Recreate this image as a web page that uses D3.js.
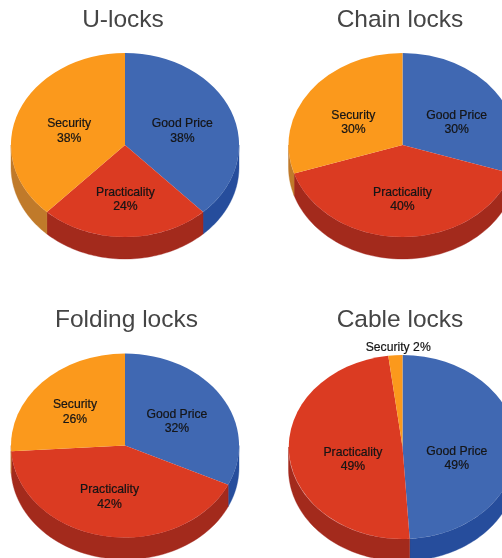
<!DOCTYPE html>
<html><head><meta charset="utf-8">
<script src="https://cdn.jsdelivr.net/npm/d3@7"></script>
<style>html,body{margin:0;padding:0;background:#fff;overflow:hidden}svg{display:block}</style>
</head><body><script>
const titles = ["U-locks","Chain locks","Folding locks","Cable locks"];
const categories = ["Good Price","Practicality","Security"];
const uLocks = [38,24,38];
const chainLocks = [30,40,30];
const foldingLocks = [32,42,26];
const cableLocks = [49,49,2];
const seriesValues = [uLocks,chainLocks,foldingLocks,cableLocks];

// layout, separate from the data
const W=502,H=558,RX=114,RY=92,DEPTH=22,K=0.56;
const centers=[[125,145],[402.5,145],[125,445.5],[402.5,447]];
const titlePos=[[123,27],[400,27],[126.5,326.5],[400,326.5]];
const nudges=[
 [[-2,4],[0.5,2],[3.5,4]],
 [[2.5,7],[0,2],[2.5,7]],
 [[-2,3],[-3.5,0],[-3.5,1]],
 [[-9.5,12],[14,7],[3.5,0]]
];
const topColor=d3.scaleOrdinal(categories,["#4068b2","#db3a22","#fb991c"]);
const sideColor=d3.scaleOrdinal(categories,["#254d9c","#a3291e","#c07a2a"]);

const svg=d3.select("body").append("svg").attr("width",W).attr("height",H).attr("viewBox",`0 0 ${W} ${H}`)
  .style("font-family","'Liberation Sans',Arial,sans-serif");
const soft=svg.append("defs").append("filter").attr("id","soft")
  .attr("x","-5%").attr("y","-5%").attr("width","110%").attr("height","110%");
soft.append("feGaussianBlur").attr("stdDeviation",0.35);
const pie=d3.pie().sort(null);
const arc=d3.arc().innerRadius(0).outerRadius(1);
const ex=t=>RX*Math.sin(t), ey=t=>-RY*Math.cos(t);

seriesValues.forEach((vals,i)=>{
  const [cx,cy]=centers[i];
  const g=svg.append("g").attr("transform",`translate(${cx},${cy})`).attr("filter","url(#soft)");
  const slices=pie(vals).map((s,j)=>({...s,cat:categories[j],j}));

  // side walls: visible front half only (pi/2..3pi/2)
  slices.forEach(s=>{
    const a=Math.max(s.startAngle,Math.PI/2), b=Math.min(s.endAngle,Math.PI*1.5);
    if(b<=a) return;
    const ts=d3.range(0,61).map(n=>a+(b-a)*n/60);
    const pts=ts.map(t=>[ex(t),ey(t)]).concat(ts.slice().reverse().map(t=>[ex(t),ey(t)+DEPTH]));
    g.append("path").attr("d",d3.line()(pts)+"Z").attr("fill",sideColor(s.cat)).attr("stroke",sideColor(s.cat)).attr("stroke-width",0.4);
  });

  // top surface
  g.append("g").attr("transform",`scale(${RX},${RY})`).selectAll("path").data(slices).join("path")
    .attr("d",arc).attr("fill",d=>topColor(d.cat));

  // labels
  slices.forEach(s=>{
    const mid=(s.startAngle+s.endAngle)/2, n=nudges[i][s.j], small=s.value<5;
    const k=small?1.09:K;
    const x=k*ex(mid)+n[0], y=k*ey(mid)+n[1];
    const t=g.append("text").attr("text-anchor","middle").attr("font-size",12.2).attr("fill","#141414")
      .attr("stroke","#141414").attr("stroke-width",0.2);
    if(small){
      t.attr("x",x).attr("y",y+4.3).text(`${s.cat} ${s.value}%`);
    }else{
      t.append("tspan").attr("x",x).attr("y",y-2.8).text(s.cat);
      t.append("tspan").attr("x",x).attr("y",y+11.5).text(`${s.value}%`);
    }
  });

  svg.append("text").attr("x",titlePos[i][0]).attr("y",titlePos[i][1]).attr("text-anchor","middle")
    .attr("font-size",24.5).attr("fill","#444444").attr("filter","url(#soft)").text(titles[i]);
});
</script></body></html>
